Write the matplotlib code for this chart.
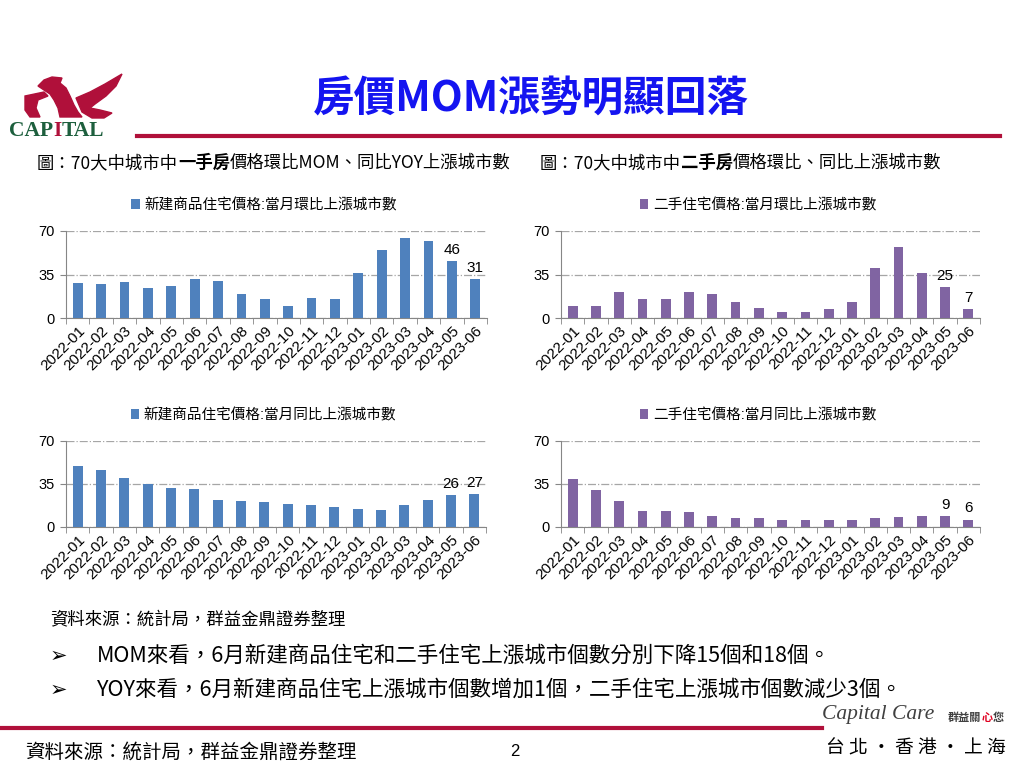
import matplotlib
matplotlib.use("Agg")
import matplotlib.pyplot as plt
from matplotlib.patches import Polygon

plt.rcParams['font.family'] = ['Liberation Sans', 'Noto Sans CJK TC', 'DejaVu Sans']

# data
months = ['2022-01', '2022-02', '2022-03', '2022-04', '2022-05', '2022-06',
          '2022-07', '2022-08', '2022-09', '2022-10', '2022-11', '2022-12',
          '2023-01', '2023-02', '2023-03', '2023-04', '2023-05', '2023-06']
new_mom = [28, 27, 29, 24, 26, 31, 30, 19, 15, 10, 16, 15, 36, 55, 64, 62, 46, 31]
used_mom = [10, 10, 21, 15, 15, 21, 19, 13, 8, 5, 5, 7, 13, 40, 57, 36, 25, 7]
new_yoy = [50, 46, 40, 35, 32, 31, 22, 21, 20, 19, 18, 16, 15, 14, 18, 22, 26, 27]
used_yoy = [39, 30, 21, 13, 13, 12, 9, 7, 7, 6, 6, 6, 6, 7, 8, 9, 9, 6]

new_mom_label = '新建商品住宅價格:當月環比上漲城市數'
used_mom_label = '二手住宅價格:當月環比上漲城市數'
new_yoy_label = '新建商品住宅價格:當月同比上漲城市數'
used_yoy_label = '二手住宅價格:當月同比上漲城市數'

BLUE = '#4f81bd'
PURPLE = '#8064a2'
RED = '#b0103a'
GREEN = '#1d5f3d'

W, H = 1024, 768
fig = plt.figure(figsize=(W / 100, H / 100), dpi=100)

# invisible full-page axes in pixel units for the slide text
base = fig.add_axes([0, 0, 1, 1], zorder=-1)
base.set_xlim(0, W)
base.set_ylim(H, 0)
base.axis('off')

cjk = ['Noto Sans CJK TC', 'DejaVu Sans']


def box(x0, y0, x1, y1):
    # pixel box -> figure rect
    return [x0 / W, 1 - y1 / H, (x1 - x0) / W, (y1 - y0) / H]


def chain(ax, x, y, parts, **kw):
    # write text pieces one after another on the same line
    s, extra = parts[0]
    prev = ax.text(x, y, s, va='center', **kw, **extra)
    for s, extra in parts[1:]:
        prev = ax.annotate(s, xy=(1, 0), xycoords=prev, va='bottom', ha='left', **kw, **extra)
    return prev


def bar_chart(rect, values, color, label):
    ax = fig.add_axes(rect)
    x = list(range(len(months)))
    ax.bar(x, values, width=0.42, color=color, label=label, zorder=3)
    ax.set_xlim(-0.5, len(months) - 0.5)
    ax.set_ylim(0, 70)
    ax.set_yticks([0, 35, 70])
    ax.grid(axis='y', color='#a6a6a6', linestyle='-.', linewidth=0.9, zorder=0)
    ax.set_xticks(x)
    ax.set_xticklabels(months, rotation=45, ha='right', rotation_mode='anchor', fontsize=11)
    ax.set_xticks([i - 0.5 for i in range(len(months) + 1)], minor=True)
    ax.tick_params(axis='x', which='major', length=0, pad=4)
    ax.tick_params(axis='x', which='minor', length=4, color='#868686')
    ax.tick_params(axis='y', length=4, color='#868686', labelsize=10.5, pad=4)
    for s in ['top', 'right']:
        ax.spines[s].set_visible(False)
    for s in ['left', 'bottom']:
        ax.spines[s].set_color('#868686')
    for i in (len(values) - 2, len(values) - 1):
        ax.annotate(str(values[i]), (i, values[i]), xytext=(0, 3),
                    textcoords='offset points', ha='center', va='bottom', fontsize=11)
    ax.legend(loc='lower center', bbox_to_anchor=(0.47, 1.15), frameon=False,
              handlelength=0.6, handleheight=0.6, handletextpad=0.3, fontsize=10.5,
              borderaxespad=0)
    return ax


bar_chart(box(66, 231, 487, 318), new_mom, BLUE, new_mom_label)
bar_chart(box(561, 231, 980, 318), used_mom, PURPLE, used_mom_label)
bar_chart(box(66, 441, 486, 527), new_yoy, BLUE, new_yoy_label)
bar_chart(box(561, 441, 980, 527), used_yoy, PURPLE, used_yoy_label)

# header
base.text(531, 100, '房價MOM漲勢明顯回落', color='#1414f0', fontsize=30,
          fontweight='bold', ha='center', va='center', family=cjk)
base.plot([137, 1000], [136, 136], color=RED, lw=3)

# logo
base.add_patch(Polygon([(38, 86), (44, 80), (52, 77), (62, 78), (60, 83), (66, 88),
                        (70, 96), (74, 105), (78, 112), (82, 117), (60, 117), (58, 108),
                        (54, 100), (50, 94), (44, 90)], closed=True, color=RED))
base.add_patch(Polygon([(25, 96), (44, 92), (48, 96), (38, 100), (36, 108), (40, 117),
                        (30, 117), (25, 110)], closed=True, color=RED))
base.add_patch(Polygon([(76, 98), (90, 92), (105, 84), (122, 74), (116, 86), (106, 96),
                        (95, 104), (90, 108), (100, 110), (112, 113), (104, 118),
                        (92, 118), (82, 112)], closed=True, color=RED))
chain(base, 9, 131, [('CAP', {'color': GREEN}), ('I', {'color': RED}), ('TAL', {'color': GREEN})],
      fontsize=15.5, fontweight='bold', family='Liberation Serif')

# sub titles
chain(base, 37, 163, [('圖：70大中城市中', {}), ('一手房', {'fontweight': 'bold'}),
                      ('價格環比MOM、同比YOY上漲城市數', {})], fontsize=12.5, family=cjk)
chain(base, 540, 163, [('圖：70大中城市中', {}), ('二手房', {'fontweight': 'bold'}),
                       ('價格環比、同比上漲城市數', {})], fontsize=12.5, family=cjk)

# notes
base.text(50, 620, '資料來源：統計局，群益金鼎證券整理', fontsize=12.5, va='center', family=cjk)
base.text(50, 656, '➢', fontsize=15, va='center', family=['DejaVu Sans'])
base.text(97, 656, 'MOM來看，6月新建商品住宅和二手住宅上漲城市個數分別下降15個和18個。',
          fontsize=15.5, va='center', family=cjk)
base.text(50, 690, '➢', fontsize=15, va='center', family=['DejaVu Sans'])
base.text(97, 690, 'YOY來看，6月新建商品住宅上漲城市個數增加1個，二手住宅上漲城市個數減少3個。',
          fontsize=15.5, va='center', family=cjk)

# footer
base.plot([0, 822], [728, 728], color=RED, lw=3)
base.text(25, 752, '資料來源：統計局，群益金鼎證券整理', fontsize=14, va='center', family=cjk)
base.text(515, 752, '2', fontsize=12, va='center', ha='center')
base.text(822, 714, 'Capital Care', fontsize=15.5, style='italic', color='#404040',
          va='center', family='Liberation Serif')
chain(base, 948, 717, [('群益關', {'color': '#404040'}), ('心', {'color': '#e00020'}),
                       ('您', {'color': '#404040'})], fontsize=8, fontweight='bold', family=cjk)
base.text(826, 748, '台 北 · 香 港 · 上 海', fontsize=13.5, va='center', family=cjk)

fig.savefig('out.png', dpi=100)
